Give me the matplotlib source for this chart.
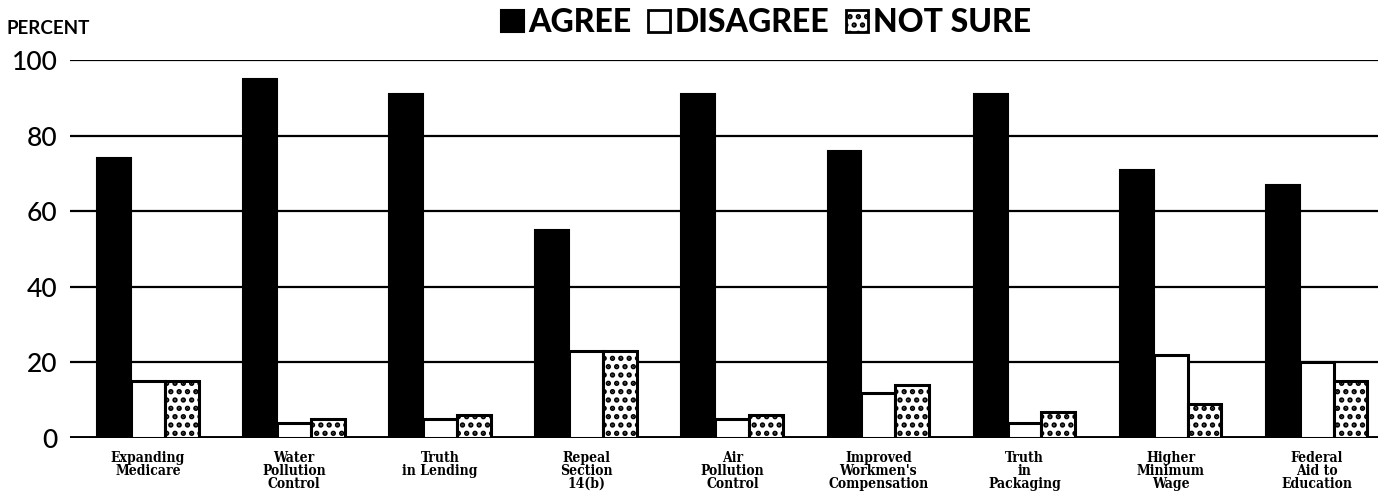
import matplotlib
matplotlib.use("Agg")
import matplotlib.pyplot as plt
import numpy as np
from matplotlib.patches import Patch

categories = ["Expanding\nMedicare", "Water\nPollution\nControl", "Truth\nin Lending",
              "Repeal\nSection\n14(b)", "Air\nPollution\nControl", "Improved\nWorkmen's\nCompensation",
              "Truth\nin\nPackaging", "Higher\nMinimum\nWage", "Federal\nAid to\nEducation"]
agree = [74, 95, 91, 55, 91, 76, 91, 71, 67]
disagree = [15, 4, 5, 23, 5, 12, 4, 22, 20]
not_sure = [15, 5, 6, 23, 6, 14, 7, 9, 15]
yticks = [0, 20, 40, 60, 80, 100]
series_names = ["AGREE", "DISAGREE", "NOT SURE"]

plt.rcParams['hatch.linewidth'] = 2.6
fig = plt.figure(figsize=(13.78, 4.97), dpi=100)
ax = fig.add_axes([0.0508, 0.1187, 0.9492, 0.7605])

x = np.arange(len(categories))
w = 0.232
ax.bar(x - w, agree, w, color="black", edgecolor="black", linewidth=1.5, zorder=3)
ax.bar(x, disagree, w, color="white", edgecolor="black", linewidth=2.2, zorder=3)
ax.bar(x + w, not_sure, w, color="white", edgecolor="black", linewidth=2.2, hatch="..", zorder=3)

for yv in yticks:
    ax.axhline(yv, color="black", linewidth=2.8 if yv == 0 else 1.6, zorder=1)

ax.set_xlim(-0.534, 8.42)
ax.set_ylim(0, 100)
for s in ax.spines.values():
    s.set_visible(False)
ax.set_yticks(yticks)
ax.set_yticklabels([str(v) for v in yticks], fontsize=19, family="Lato", fontweight="medium")
ax.tick_params(axis="y", length=0, pad=9)
ax.set_xticks(x)
ax.set_xticklabels(categories, fontsize=10, family="DejaVu Serif", fontweight="bold",
                   fontstretch="condensed", linespacing=0.92, va="top")
ax.tick_params(axis="x", length=0, pad=9)

fig.text(0.005, 0.942, "PERCENT", fontsize=13.5, family="Lato", fontweight="bold", va="center", ha="left")

handles = [Patch(facecolor="black", edgecolor="black", linewidth=1.5),
           Patch(facecolor="white", edgecolor="black", linewidth=2.0),
           Patch(facecolor="white", edgecolor="black", linewidth=2.0, hatch="..")]
fig.legend(handles, series_names, loc="center", bbox_to_anchor=(0.556, 0.955), ncol=3,
           frameon=False, handlelength=0.7, handleheight=0.7, handletextpad=0.15,
           columnspacing=0.5, prop={"family": "Lato", "weight": "black", "size": 23})

fig.savefig("out.png", dpi=100)
